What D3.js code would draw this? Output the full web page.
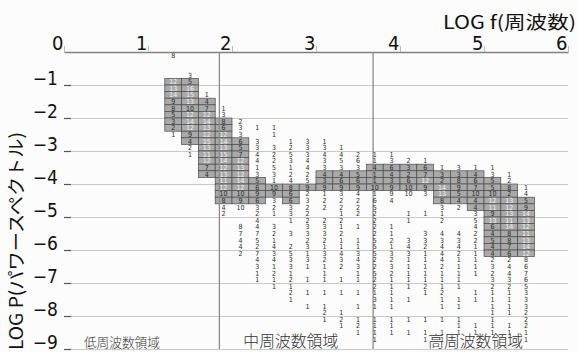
<!DOCTYPE html>
<html>
<head>
<meta charset="utf-8">
<script src="https://cdn.jsdelivr.net/npm/d3@7"></script>
<style>
  html, body { margin: 0; padding: 0; background: #fcfcfc; }
  svg { display: block; }
</style>
</head>
<body>
<svg id="chart" width="577" height="352"></svg>
<script>
// axis ticks
const xTicks = [0, 1, 2, 3, 4, 5, 6];
const yTicks = [-1, -2, -3, -4, -5, -6, -7, -8, -9];

// column centres (log f), each column is 0.2 wide
const colCenters = [1.3, 1.5, 1.7, 1.9, 2.1, 2.3, 2.5, 2.7, 2.9, 3.1, 3.3,
    3.5, 3.7, 3.9, 4.1, 4.3, 4.5, 4.7, 4.9, 5.1, 5.3, 5.5];

// first row index of every column (row k is centred on log P = -(0.1 + 0.2k))
const colStartRow = [0, 3, 6, 8, 10, 11, 11, 13, 13, 13, 14,
    15, 15, 15, 16, 16, 17, 17, 17, 17, 18, 20];

// counts per row, 0 = empty cell
const colCounts = [
    [8, 0, 0, 0, 12, 13, 14, 9, 8, 5, 3, 2, 1],
    [3, 5, 16, 15, 13, 10, 12, 14, 12, 9, 4, 2, 1],
    [1, 4, 7, 12, 14, 13, 12, 15, 13, 11, 12, 7, 4],
    [1, 3, 8, 6, 12, 14, 13, 15, 14, 12, 13, 11, 12, 10, 8, 4, 2],
    [2, 3, 3, 6, 5, 7, 12, 13, 12, 14, 12, 10, 9, 10, 0, 0, 8, 7, 4, 4, 2],
    [1, 0, 3, 3, 4, 4, 1, 3, 5, 6, 9, 6, 3, 2, 4, 4, 7, 5, 2, 7, 4, 3, 1, 1],
    [1, 1, 0, 3, 2, 2, 5, 3, 1, 10, 9, 3, 2, 1, 0, 3, 2, 1, 4, 3, 4, 1, 2, 1, 1],
    [1, 2, 5, 3, 1, 2, 4, 8, 6, 6, 3, 3, 1, 0, 3, 0, 2, 5, 3, 3, 1, 2, 1, 2, 1],
    [3, 3, 3, 4, 4, 2, 5, 9, 2, 3, 2, 2, 2, 3, 3, 2, 3, 1, 3, 1, 0, 1, 0, 1, 0, 1],
    [1, 3, 4, 3, 3, 4, 3, 9, 1, 2, 2, 0, 2, 3, 3, 2, 1, 3, 2, 1, 1, 1, 0, 1, 0, 1, 2, 1],
    [1, 4, 5, 3, 4, 6, 9, 3, 2, 2, 1, 2, 1, 2, 1, 1, 4, 3, 2, 0, 1, 0, 1, 0, 0, 1, 2, 1],
    [2, 6, 3, 5, 6, 9, 4, 2, 2, 2, 0, 1, 0, 1, 1, 3, 4, 3, 1, 1, 0, 1, 0, 1, 0, 1, 2, 1],
    [1, 1, 4, 1, 1, 10, 1, 6, 5, 2, 2, 2, 2, 5, 5, 5, 2, 2, 5, 2, 2, 1, 3, 1, 0, 1, 1, 1, 1],
    [1, 3, 6, 4, 3, 9, 9, 4, 0, 0, 0, 1, 1, 2, 1, 3, 2, 3, 2, 1, 1, 1, 1, 1, 0, 1, 1, 1],
    [2, 3, 2, 6, 10, 10, 0, 0, 1, 1, 0, 0, 3, 4, 3, 1, 1, 1, 1, 1, 0, 1, 0, 0, 1, 0, 1],
    [1, 6, 7, 12, 9, 3, 0, 0, 1, 0, 0, 3, 3, 2, 1, 1, 1, 1, 1, 2, 1, 0, 0, 0, 1, 0, 1, 1],
    [1, 3, 2, 14, 13, 8, 3, 1, 2, 0, 4, 3, 4, 4, 4, 2, 1, 1, 1, 2, 1, 1, 0, 1, 0, 1, 1],
    [3, 3, 8, 9, 5, 4, 2, 0, 0, 0, 4, 3, 4, 2, 1, 1, 1, 1, 1, 0, 1, 1, 0, 1, 1, 1],
    [1, 4, 6, 7, 10, 4, 4, 3, 5, 4, 2, 2, 1, 1, 1, 1, 1, 0, 0, 1, 1, 0, 0, 0, 1, 1],
    [1, 3, 5, 5, 10, 12, 11, 9, 13, 6, 4, 5, 4, 4, 2, 3, 2, 3, 2, 1, 1, 1, 1, 1, 1, 1],
    [1, 2, 8, 2, 13, 12, 13, 11, 14, 8, 8, 7, 6, 2, 4, 4, 3, 2, 1, 1, 1, 1, 0, 1, 1],
    [1, 4, 5, 9, 14, 13, 12, 11, 13, 14, 12, 8, 6, 7, 6, 5, 3, 3, 3, 2, 2, 2, 1, 1]
];

// shaded band of each column (log P, top and bottom edge)
const bandTop = [-0.8, -0.8, -1.4, -2.0, -2.6, -3.8, -4.0, -4.0, -4.0, -3.6, -3.6,
    -3.6, -3.4, -3.4, -3.4, -3.4, -3.6, -3.6, -3.6, -3.8, -4.0, -4.4];
const bandBottom = [-2.4, -2.8, -3.8, -4.6, -4.6, -4.6, -4.4, -4.6, -4.2, -4.2, -4.2,
    -4.2, -4.2, -4.2, -4.2, -4.2, -4.6, -4.6, -4.8, -6.2, -6.2, -6.2];

const regionNames = ['低周波数領域', '中周波数領域', '高周波数領域'];
const regionDividers = [1.85, 3.68];

const xTitle = 'LOG f(周波数)';
const yTitle = 'LOG P(パワースペクトル)';

(function () {
    // layout
    const padLeft = 64, padRight = 568, padTop = 52, padBottom = 349;
    const rowH = 0.2, colW = 0.2;
    const numFont = '"Liberation Sans Narrow", "DejaVu Sans Condensed", "Liberation Sans", sans-serif';
    const jpFont = '"Noto Sans CJK JP", sans-serif';

    const svg = d3.select('#chart');

    const x = d3.scaleLinear().domain([0, 6]).range([padLeft, padRight]);
    const y = d3.scaleLinear().domain([0, -9]).range([padTop, padBottom]);

    // horizontal grid + left labels
    const yAxis = d3.axisLeft(y)
        .tickValues(yTicks)
        .tickSize(-(padRight - padLeft))
        .tickPadding(6)
        .tickFormat(d3.format('d'));

    const gy = svg.append('g')
        .attr('transform', `translate(${padLeft},0)`)
        .call(yAxis);
    gy.select('.domain').remove();
    gy.selectAll('.tick line')
        .attr('stroke', '#c9c9c9')
        .attr('stroke-width', 1);
    gy.selectAll('.tick text')
        .attr('dy', 0)
        .attr('y', -1)
        .attr('fill', '#111')
        .style('font-family', numFont)
        .style('font-size', '19px');

    // short dark ticks on the left edge
    const gyTicks = svg.append('g')
        .attr('transform', `translate(${padLeft},0)`)
        .call(d3.axisRight(y).tickValues(yTicks).tickSize(7).tickFormat(''));
    gyTicks.select('.domain').remove();
    gyTicks.selectAll('.tick line').attr('stroke', '#555').attr('stroke-width', 1.2);

    // top axis
    const xAxis = d3.axisTop(x)
        .tickValues(xTicks)
        .tickSize(6)
        .tickSizeOuter(0)
        .tickFormat(d3.format('d'));

    const gx = svg.append('g')
        .attr('transform', `translate(0,${padTop})`)
        .call(xAxis);
    gx.select('.domain').attr('stroke', '#808080').attr('stroke-width', 1.3);
    gx.selectAll('.tick line').attr('stroke', '#bbb');
    gx.selectAll('.tick text')
        .attr('dy', 0)
        .attr('y', -2)
        .attr('x', -1)
        .attr('text-anchor', 'end')
        .attr('fill', '#111')
        .style('font-family', numFont)
        .style('font-size', '20px');

    // shaded cells
    const cells = [];
    colCenters.forEach((c, i) => {
        const n = Math.round((bandTop[i] - bandBottom[i]) / rowH);
        for (let j = 0; j < n; j++) {
            cells.push({c: c, top: bandTop[i] - j * rowH});
        }
    });

    svg.append('g')
        .selectAll('rect')
        .data(cells)
        .enter()
        .append('rect')
        .attr('x', d => x(d.c - colW / 2))
        .attr('y', d => y(d.top))
        .attr('width', d => x(d.c + colW / 2) - x(d.c - colW / 2))
        .attr('height', d => y(d.top - rowH) - y(d.top))
        .attr('fill', '#a9a9a9')
        .attr('stroke', '#4a4a4a')
        .attr('stroke-width', 0.7);

    // region dividers
    svg.append('g')
        .selectAll('line')
        .data(regionDividers)
        .enter()
        .append('line')
        .attr('x1', d => x(d))
        .attr('x2', d => x(d))
        .attr('y1', y(0))
        .attr('y2', y(-9))
        .attr('stroke', '#8a8a8a')
        .attr('stroke-width', 1.3);

    // counts
    const counts = [];
    colCenters.forEach((c, i) => {
        colCounts[i].forEach((v, j) => {
            if (v > 0) {
                const k = colStartRow[i] + j;
                const p = -(0.1 + rowH * k);
                const shaded = p < bandTop[i] && p > bandBottom[i];
                counts.push({c: c, p: p, v: v, light: shaded && v >= 11});
            }
        });
    });

    svg.append('g')
        .selectAll('text')
        .data(counts)
        .enter()
        .append('text')
        .attr('x', d => x(d.c))
        .attr('y', d => y(d.p) + 2.4)
        .attr('text-anchor', 'middle')
        .attr('fill', d => d.light ? '#f2f2f2' : '#2a2a2a')
        .style('font-family', numFont)
        .style('font-size', '7px')
        .text(d => d.v);

    // region names
    const regionAt = [0.69, 2.7, 4.9];
    const regionSize = [13, 15.5, 15.5];
    const regionWidth = [76, 95, 95];
    svg.append('g')
        .selectAll('text')
        .data(regionNames)
        .enter()
        .append('text')
        .attr('x', (d, i) => x(regionAt[i]))
        .attr('y', 347)
        .attr('text-anchor', 'middle')
        .attr('textLength', (d, i) => regionWidth[i])
        .attr('lengthAdjust', 'spacingAndGlyphs')
        .attr('fill', '#333')
        .style('font-family', jpFont)
        .style('font-weight', 300)
        .style('font-size', (d, i) => regionSize[i] + 'px')
        .text(d => d);

    // titles
    svg.append('text')
        .attr('x', 443)
        .attr('y', 29)
        .attr('textLength', 133)
        .attr('lengthAdjust', 'spacingAndGlyphs')
        .attr('fill', '#111')
        .style('font-family', jpFont)
        .style('font-size', '18px')
        .text(xTitle);

    svg.append('text')
        .attr('transform', 'translate(23,350) rotate(-90)')
        .attr('textLength', 218)
        .attr('lengthAdjust', 'spacingAndGlyphs')
        .attr('fill', '#111')
        .style('font-family', jpFont)
        .style('font-size', '18px')
        .text(yTitle);
})();
</script>
</body>
</html>
